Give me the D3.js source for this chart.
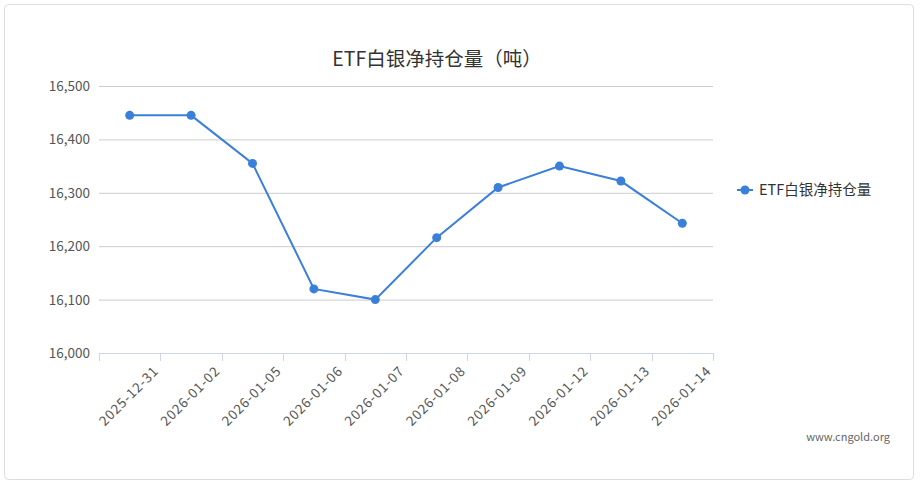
<!DOCTYPE html>
<html>
<head>
<meta charset="utf-8">
<script src="https://cdn.jsdelivr.net/npm/d3@7/dist/d3.min.js"></script>
<style>
  body { margin: 0; background: #fff; font-family: "Noto Sans CJK SC", "Noto Sans", sans-serif; }
</style>
</head>
<body>
<svg id="chart" width="924" height="484"></svg>
<script>
var dates = ["2025-12-31","2026-01-02","2026-01-05","2026-01-06","2026-01-07","2026-01-08","2026-01-09","2026-01-12","2026-01-13","2026-01-14"];
var holdings = [16445, 16445, 16355, 16120, 16100, 16216, 16310, 16350, 16322, 16243];
var yTicks = [16000, 16100, 16200, 16300, 16400, 16500];
var seriesName = "ETF白银净持仓量";
var color = "#3a7fd9";

var svg = d3.select("#chart");
svg.append("rect").attr("x", 4.5).attr("y", 4.5).attr("width", 909).attr("height", 475)
    .attr("rx", 4).attr("fill", "#fff").attr("stroke", "#ddd");

var plotL = 99, plotR = 713, plotT = 86, plotB = 353;
var x = d3.scaleBand().domain(dates).range([plotL, plotR]);
var y = d3.scaleLinear().domain([16000, 16500]).range([plotB, plotT]);

svg.append("text").attr("x", 437).attr("y", 66).attr("text-anchor", "middle")
    .attr("font-size", 19.5).attr("fill", "#333").text("ETF白银净持仓量（吨）");

// grid
svg.selectAll(".grid").data(yTicks.slice(1)).enter().append("line")
    .attr("x1", plotL).attr("x2", plotR).attr("y1", d => y(d) + 0.5).attr("y2", d => y(d) + 0.5)
    .attr("stroke", "#ccc");

svg.selectAll(".ylab").data(yTicks).enter().append("text")
    .attr("x", plotL - 9).attr("y", d => y(d) + 5).attr("text-anchor", "end")
    .attr("font-size", 13.5).attr("fill", "#555").text(d3.format(","));

// x axis
svg.append("line").attr("x1", plotL).attr("x2", plotR).attr("y1", plotB + 0.5).attr("y2", plotB + 0.5)
    .attr("stroke", "#ccd6eb");
var edges = [plotL].concat(dates.map(d => x(d) + x.bandwidth()));
svg.selectAll(".xtick").data(edges).enter().append("line")
    .attr("x1", d => Math.round(d) + 0.5).attr("x2", d => Math.round(d) + 0.5)
    .attr("y1", plotB).attr("y2", plotB + 8).attr("stroke", "#ccd6eb");

svg.selectAll(".xlab").data(dates).enter().append("text")
    .attr("transform", d => "translate(" + (x(d) + x.bandwidth() - 1) + "," + (plotB + 19) + ") rotate(-45)")
    .attr("text-anchor", "end").attr("font-size", 13.5).attr("letter-spacing", 0.8).attr("fill", "#555").text(d => d);

var line = d3.line().x((d, i) => x(dates[i]) + x.bandwidth() / 2).y(d => y(d));
svg.append("path").datum(holdings).attr("d", line).attr("fill", "none")
    .attr("stroke", color).attr("stroke-width", 2);
svg.selectAll(".pt").data(holdings).enter().append("circle")
    .attr("cx", (d, i) => x(dates[i]) + x.bandwidth() / 2).attr("cy", d => y(d))
    .attr("r", 4.5).attr("fill", color);

// legend
var lg = svg.append("g").attr("transform", "translate(737,190)");
lg.append("line").attr("x1", 0).attr("x2", 16).attr("y1", 0).attr("y2", 0).attr("stroke", color).attr("stroke-width", 2);
lg.append("circle").attr("cx", 8).attr("cy", 0).attr("r", 4.5).attr("fill", color);
lg.append("text").attr("x", 22).attr("y", 5).attr("font-size", 14.5).attr("fill", "#333").text(seriesName);

svg.append("text").attr("x", 890).attr("y", 441).attr("text-anchor", "end")
    .attr("font-size", 11).attr("fill", "#666").text("www.cngold.org");
</script>
</body>
</html>
